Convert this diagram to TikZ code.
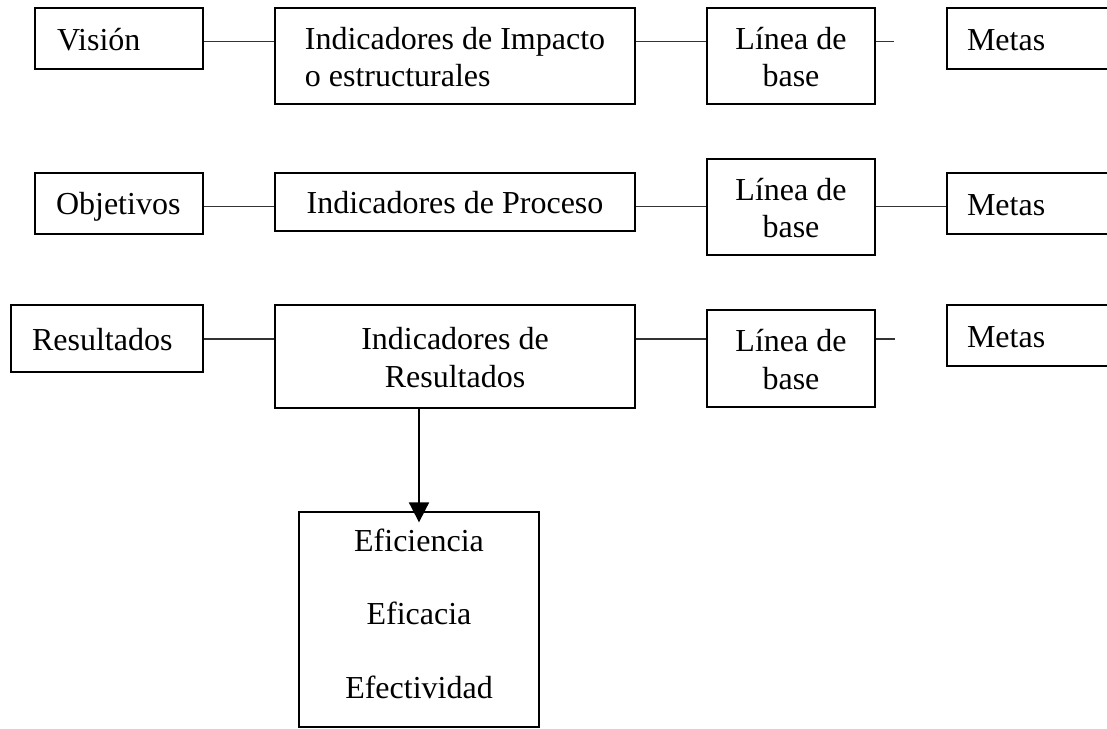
\documentclass[tikz,border=0pt]{standalone}
\usepackage{fontspec}
\setmainfont{Liberation Serif}
\usetikzlibrary{arrows.meta}
\newcommand{\sr}{\rule[-4.3pt]{0pt}{32.5pt}}
\begin{document}
\begin{tikzpicture}[x=1pt,y=-1pt,
  box/.style={draw,line width=1.3pt,inner ysep=0pt,font=\fontsize{32}{37.7}\selectfont},
  lbox/.style={box,align=left},
  cbox/.style={box,align=center,inner xsep=0pt},
  conn/.style={line width=1.2pt,draw=black!80},
  arr/.style={line width=1.8pt,-{Triangle[width=20pt,length=20pt]}}
]
\useasboundingbox (0,0) rectangle (1107,728);
\clip (0,0) rectangle (1107,728);
% row 1
\node[lbox,minimum width=168,minimum height=61,inner xsep=22,text width=124] (vis) at (119,38.5) {\sr Visión};
\node[lbox,minimum width=360,minimum height=96,inner xsep=0pt] (ii) at (455,56) {\sr Indicadores de Impacto\\\sr o estructurales};
\node[cbox,minimum width=168,minimum height=96] (lb1) at (791,56) {\sr Línea de\\\sr base};
\node[lbox,minimum width=180,minimum height=61,inner xsep=20,text width=140] (met1) at (1037,38.5) {\sr Metas};
% row 2
\node[lbox,minimum width=168,minimum height=61,inner xsep=21,text width=126] (obj) at (119,203.5) {\sr Objetivos};
\node[cbox,minimum width=360,minimum height=58] (ip) at (455,202) {\sr Indicadores de Proceso};
\node[cbox,minimum width=168,minimum height=96] (lb2) at (791,207) {\sr Línea de\\\sr base};
\node[lbox,minimum width=180,minimum height=61,inner xsep=20,text width=140] (met2) at (1037,203.5) {\sr Metas};
% row 3
\node[lbox,minimum width=192,minimum height=67,inner xsep=21,text width=150] (res) at (107,338.5) {\sr Resultados};
\node[cbox,minimum width=360,minimum height=103] (ir) at (455,356.5) {\sr Indicadores de\\\sr Resultados};
\node[cbox,minimum width=168,minimum height=97] (lb3) at (791,358.5) {\sr Línea de\\\sr base};
\node[lbox,minimum width=180,minimum height=61,inner xsep=20,text width=140] (met3) at (1037,335.5) {\sr Metas};
% bottom box
\node[cbox,minimum width=240,minimum height=215] (ef) at (419,619.5) {\sr Eficiencia\\[35.6pt]\sr Eficacia\\[35.6pt]\sr Efectividad\rule[-17.8pt]{0pt}{0pt}};
% row coordinates and free ends
\coordinate (r1) at (0,41.7);
\coordinate (r2) at (0,206.8);
\coordinate (r3) at (0,339);
\coordinate (s1) at (894,41.7);
\coordinate (s3) at (895,339);
% connectors
\draw[conn] (vis.east |- r1) -- (ii.west |- r1);
\draw[conn] (ii.east |- r1) -- (lb1.west |- r1);
\draw[conn] (lb1.east |- r1) -- (s1);
\draw[conn] (obj.east |- r2) -- (ip.west |- r2);
\draw[conn] (ip.east |- r2) -- (lb2.west |- r2);
\draw[conn] (lb2.east |- r2) -- (met2.west |- r2);
\draw[conn] (res.east |- r3) -- (ir.west |- r3);
\draw[conn] (ir.east |- r3) -- (lb3.west |- r3);
\draw[conn] (lb3.east |- r3) -- (s3);
\draw[arr] (ef.north |- ir.south) -- ([yshift=-11pt]ef.north);
\end{tikzpicture}
\end{document}
